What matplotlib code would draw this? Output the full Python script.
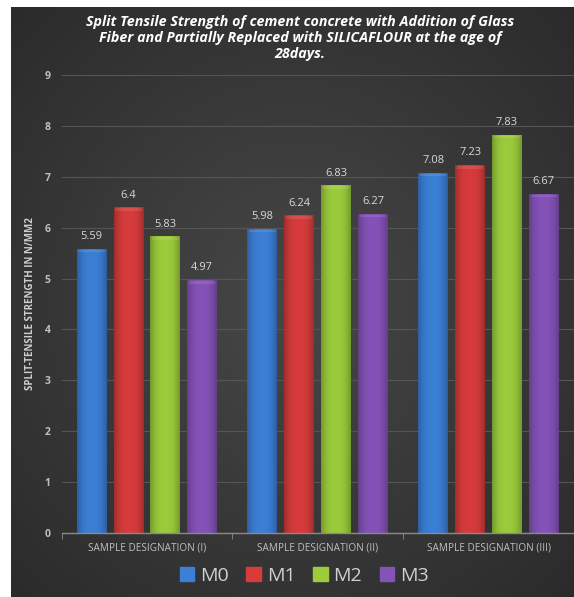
import numpy as np
import matplotlib
matplotlib.use("Agg")
import matplotlib.pyplot as plt
from matplotlib.patches import Rectangle
import matplotlib.colors as mcolors

categories = ["SAMPLE DESIGNATION (I)", "SAMPLE DESIGNATION (II)", "SAMPLE DESIGNATION (III)"]
series = ["M0", "M1", "M2", "M3"]
values = {
    "M0": [5.59, 5.98, 7.08],
    "M1": [6.4, 6.24, 7.23],
    "M2": [5.83, 6.83, 7.83],
    "M3": [4.97, 6.27, 6.67],
}
labels = {
    "M0": ["5.59", "5.98", "7.08"],
    "M1": ["6.4", "6.24", "7.23"],
    "M2": ["5.83", "6.83", "7.83"],
    "M3": ["4.97", "6.27", "6.67"],
}
colors = ["#3b7fd6", "#d73b3b", "#9ccc3c", "#8552b8"]

plt.rcParams['font.family'] = ['Open Sans', 'DejaVu Sans']

fig = plt.figure(figsize=(5.74, 5.97), dpi=100)
fig.patch.set_facecolor("white")

# dark panel with radial gradient
bg = fig.add_axes([11/574, 0, 1 - 11/574, 1 - 7/597])
bg.set_axis_off()
yy, xx = np.mgrid[-1:1:300j, -1:1:300j]
r = np.sqrt(xx**2 + yy**2) / np.sqrt(2)
cmap_bg = mcolors.LinearSegmentedColormap.from_list("bg", ["#474747", "#2b2b2b"])
bg.imshow(r, cmap=cmap_bg, aspect="auto", extent=(0, 1, 0, 1), zorder=0)
bg.set_xlim(0, 1)
bg.set_ylim(0, 1)

ax = fig.add_axes([61.5/574, 1 - 533/597, 1 - 61.5/574, (533 - 75)/597])
ax.set_facecolor("none")

x = np.arange(len(categories))
step = 0.216
width = 0.175
for i, s in enumerate(series):
    offs = (i - 1.5) * step
    bars = ax.bar(x + offs, values[s], width, color=colors[i], zorder=3)
    base = mcolors.to_rgb(colors[i])
    for b, txt in zip(bars, labels[s]):
        x0 = b.get_x()
        h = b.get_height()
        # horizontal shading for a glossy look
        t = np.linspace(-1, 1, 60)
        shade = 1 - 0.25 * np.abs(t) ** 2.5
        img = np.ones((2, 60, 3)) * np.array(base)
        img = img * shade[None, :, None]
        im = ax.imshow(np.clip(img, 0, 1), extent=(x0, x0 + width, 0, h),
                       aspect="auto", zorder=4)
        im.set_clip_path(b)
        # lighter bevel at top
        ax.add_patch(Rectangle((x0 + width * 0.06, h - 0.07), width * 0.88, 0.05,
                               color="white", alpha=0.1, lw=0, zorder=5))
        ax.text(x0 + width / 2, h + 0.13, txt, ha="center", va="bottom",
                color="#d9d9d9", fontsize=8, zorder=6)

ax.set_xlim(-0.5, len(categories) - 0.5)
ax.set_ylim(0, 9)
ax.set_yticks(range(0, 10))
ax.yaxis.grid(True, color="#555555", lw=0.8, zorder=1)
ax.set_axisbelow(True)

for sp in ["top", "right", "left"]:
    ax.spines[sp].set_visible(False)
ax.spines["bottom"].set_color("#8a8a8a")
ax.spines["bottom"].set_linewidth(1.0)
ax.spines["bottom"].set_zorder(6)

ax.set_xticks(x)
ax.set_xticklabels(categories, color="#bfbfbf", fontsize=7.2)
ax.tick_params(axis="x", length=0, pad=7)
ax.set_xticks(np.arange(-0.5, len(categories) + 0.5, 1), minor=True)
ax.tick_params(axis="x", which="minor", length=4, color="#8a8a8a", direction="out")
ax.tick_params(axis="y", length=0, colors="#bfbfbf", labelsize=7.5, pad=8)
for lab in ax.get_yticklabels():
    lab.set_color("#bfbfbf")
    lab.set_fontweight("bold")

ax.set_ylabel("SPLIT-TENSILE STRENGTH IN N/MM2", color="#d0d0d0", fontsize=7,
              fontweight="bold", labelpad=6)

fig.text(0.523, 1 - 15/597, "Split Tensile Strength of cement concrete with Addition of Glass\n"
         "Fiber and Partially Replaced with SILICAFLOUR at the age of\n28days.",
         ha="center", va="top", color="white", fontsize=10.3, fontstyle="italic",
         fontweight="bold", linespacing=1.2)

handles = [Rectangle((0, 0), 1, 1, color=c) for c in colors]
leg = fig.legend(handles, series, loc="center", bbox_to_anchor=(0.53, 1 - 576/597),
                 ncol=4, frameon=False, fontsize=14, handlelength=0.75, handleheight=0.75,
                 handletextpad=0.3, columnspacing=0.9)
for t in leg.get_texts():
    t.set_color("#d0d0d0")

fig.savefig("out.png", dpi=100, facecolor=fig.get_facecolor())
